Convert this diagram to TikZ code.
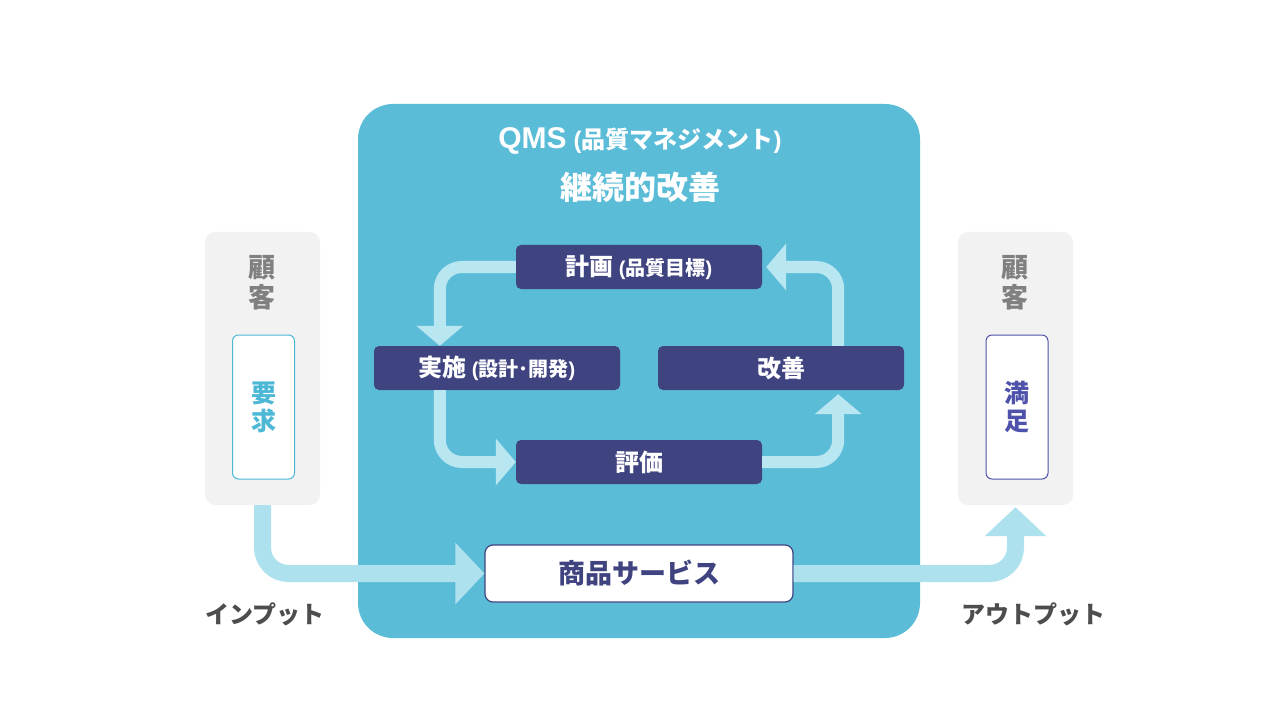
\documentclass[tikz,border=0pt]{standalone}
\usepackage{fontspec}
\setmainfont{Noto Sans CJK JP}
\newfontfamily\lat{Liberation Sans}
\usetikzlibrary{arrows.meta}
\definecolor{qmsblue}{RGB}{91,188,216}
\definecolor{navy}{RGB}{63,67,128}
\definecolor{cycarrow}{RGB}{184,230,241}
\definecolor{outarrow}{RGB}{174,225,238}
\definecolor{custgray}{RGB}{242,242,242}
\definecolor{graytext}{RGB}{128,128,128}
\definecolor{darktext}{RGB}{77,77,77}
\definecolor{reqcyan}{RGB}{77,184,214}
\definecolor{satblue}{RGB}{78,82,170}
\newcommand{\fs}[2]{\fontsize{#1}{#2}\selectfont}
\tikzset{
  stepbox/.style={fill=navy, rounded corners=5pt, minimum width=246pt, minimum height=44pt, inner sep=0pt, text=white, font=\bfseries\fs{24}{28}},
  custbox/.style={fill=custgray, rounded corners=10pt, minimum width=115pt, minimum height=273pt, inner sep=0pt},
  innerbox/.style={fill=white, rounded corners=6pt, line width=1pt, minimum width=62pt, minimum height=144pt, inner sep=0pt, align=center, font=\bfseries\fs{25}{28}},
  cyc/.style={draw=cycarrow, line width=12pt, rounded corners=22pt, -{Triangle[width=46pt,length=20pt]}},
  outer/.style={draw=outarrow, line width=17pt, rounded corners=26pt, -{Triangle[width=60pt,length=29pt]}},
  vlabel/.style={text=graytext, align=center, font=\bfseries\fs{27}{30}},
  iolabel/.style={text=darktext, font=\bfseries\fs{24}{28}}
}
\begin{document}
\begin{tikzpicture}[x=1pt,y=-1pt]
\useasboundingbox (0,0) rectangle (1280,722);
% QMS box
\node[fill=qmsblue, rounded corners=35pt, minimum width=562pt, minimum height=534pt, inner sep=0pt] (qms) at (639,371) {};
\node[text=white, font=\bfseries] (title1) at (640,141) {{\lat\fs{30}{34}QMS}\hspace{7pt}{\fs{24}{28}{\lat(}品質マネジメント{\lat)}}};
\node[text=white, font=\bfseries\fs{32}{36}] (title2) at (640,187) {継続的改善};
% steps
\node[stepbox] (plan) at (639,267) {計画\hspace{5pt}{\fs{20}{24}{\lat(}品質目標{\lat)}}};
\node[stepbox] (impl) at (497,368) {実施\hspace{5pt}{\fs{20}{24}{\lat(}設計･開発{\lat)}}};
\node[stepbox] (impr) at (781,368) {改善};
\node[stepbox] (eval) at (639,462) {評価};
% cycle arrows
\draw[cyc] (plan.west) -| ([xshift=66pt]impl.north west);
\draw[cyc] ([xshift=66pt]impl.south west) |- (eval.west);
\draw[cyc, shorten >=4pt] (eval.east) -| ([xshift=-66pt]impr.south east);
\draw[cyc, shorten >=4pt] ([xshift=-66pt]impr.north east) |- (plan.east);
% customers
\node[custbox] (lcust) at (262.5,368.5) {};
\node[custbox] (rcust) at (1015.5,368.5) {};
\node[vlabel] (lkokyaku) at (262,283) {顧\\客};
\node[vlabel] (rkokyaku) at (1015,283) {顧\\客};
\node[innerbox, draw=reqcyan, text=reqcyan] (req) at (263.5,407) {要\\求};
\node[innerbox, draw=satblue, text=satblue] (sat) at (1017,407) {満\\足};
% product
\node[fill=white, draw=navy, line width=1.2pt, rounded corners=8pt, minimum width=308pt, minimum height=57pt, inner sep=0pt, text=navy, font=\bfseries\fs{27}{30}] (prod) at (639,573.5) {商品サービス};
% outer arrows
\draw[outer] (lcust.south) |- (prod.west);
\draw[outer, shorten >=2pt] (prod.east) -| (rcust.south);
% labels
\node[iolabel] (inlab) at (265,614) {インプット};
\node[iolabel] (outlab) at (1033,614) {アウトプット};
\end{tikzpicture}
\end{document}
